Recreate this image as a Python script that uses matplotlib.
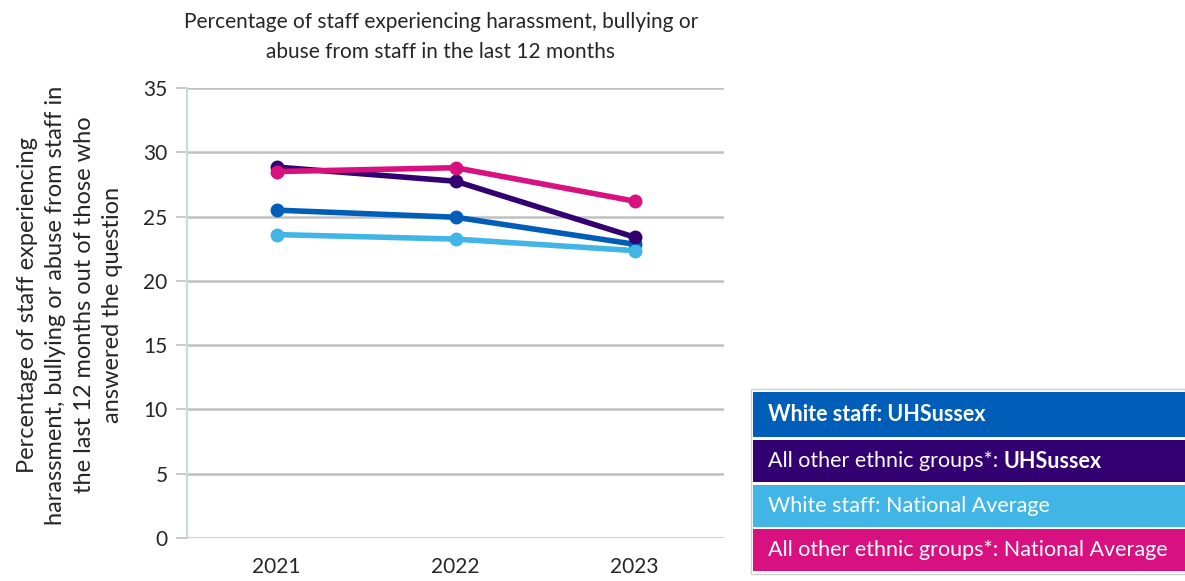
import matplotlib
matplotlib.use("Agg")
import matplotlib.pyplot as plt
from matplotlib.patches import Rectangle
from matplotlib.text import Annotation

plt.rcParams['font.family'] = ['Lato', 'DejaVu Sans']

years = ['2021', '2022', '2023']
white_uhs = [25.5, 24.95, 22.85]
other_uhs = [28.85, 27.75, 23.4]
white_nat = [23.6, 23.25, 22.35]
other_nat = [28.5, 28.8, 26.2]

series = [
    (white_uhs, '#005EB8'),
    (other_uhs, '#330072'),
    (white_nat, '#41B6E6'),
    (other_nat, '#D9107F'),
]
# drawing order: national lines under local ones, like the original
order = [2, 0, 3, 1]

title = 'Percentage of staff experiencing harassment, bullying or\nabuse from staff in the last 12 months'
ylabel = ('Percentage of staff experiencing\nharassment, bullying or abuse from staff in\n'
          'the last 12 months out of those who\nanswered the question')

W, H = 1185, 581
fig = plt.figure(figsize=(W / 100, H / 100), dpi=100)
ax = fig.add_axes([187 / W, 1 - 538 / H, (724 - 187) / W, (538 - 88) / H])

x = list(range(len(years)))
for i in order:
    vals, col = series[i]
    ax.plot(x, vals, color=col, lw=4, marker='o', ms=9, solid_capstyle='round', zorder=3 + i)

ax.set_xlim(-0.5, 2.5)
ax.set_ylim(0, 35)
ax.set_yticks(range(0, 36, 5))
ax.set_xticks(x)
ax.set_xticklabels(years)
ax.grid(axis='y', color='#C0C0C0', lw=1.8)
ax.set_axisbelow(True)
for s in ['top', 'right', 'bottom']:
    ax.spines[s].set_visible(False)
ax.spines['left'].set_color('#C5D9E0')
ax.spines['left'].set_linewidth(1.5)
ax.tick_params(axis='y', length=8, color='#C0C0C0', width=1.2, labelsize=15, pad=6, labelcolor='#262626')
ax.tick_params(axis='x', length=0, labelsize=15, pad=14, labelcolor='#262626')

fig.text(441 / W, 1 - 37 / H, title, ha='center', va='center', fontsize=15,
         color='#262626', linespacing=1.6)
fig.text(70 / W, 1 - 305 / H, ylabel, ha='center', va='center', rotation=90,
         fontsize=17, color='#262626', linespacing=1.45)

# legend boxes drawn on the figure
fig.add_artist(Rectangle((751 / W, 1 - 574 / H), (W - 751) / W, (574 - 389) / H,
                         transform=fig.transFigure, facecolor='white',
                         edgecolor='#D0D0D0', lw=1))
boxes = [(392, 437), (440, 482), (485, 527), (529, 571)]
labels = [
    ('White staff: UHSussex', None, 'bold'),
    ('All other ethnic groups*: ', 'UHSussex', 'normal'),
    ('White staff: National Average', None, 'normal'),
    ('All other ethnic groups*: National Average', None, 'normal'),
]
for (top, bot), (vals, col), (txt, bold_part, weight) in zip(boxes, series, labels):
    fig.add_artist(Rectangle((753 / W, 1 - bot / H), (W - 753) / W, (bot - top) / H,
                             transform=fig.transFigure, facecolor=col, edgecolor='none'))
    t = fig.text(768 / W, 1 - (top + bot) / 2 / H, txt, ha='left', va='center',
                 fontsize=15.5, color='white', fontweight=weight)
    if bold_part:
        fig.add_artist(Annotation(bold_part, xy=(1, 0.5), xycoords=t, ha='left', va='center',
                                  fontsize=15.5, color='white', fontweight='bold'))

fig.savefig('out.png', dpi=100)
